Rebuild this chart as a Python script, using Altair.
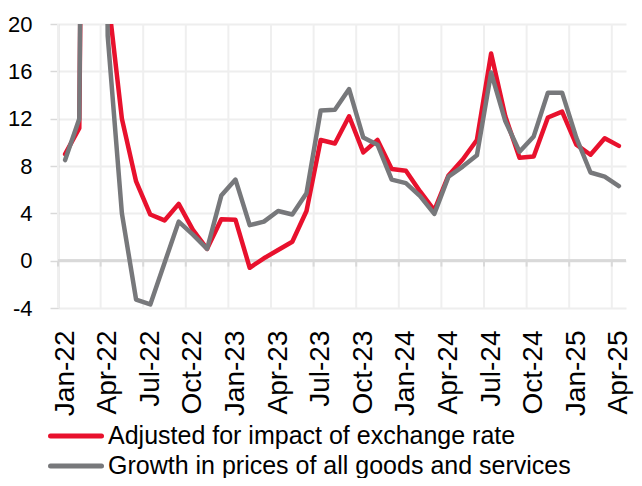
import altair as alt
import pandas as pd

months = [
    "Jan-22", "Feb-22", "Mar-22", "Apr-22", "May-22", "Jun-22", "Jul-22", "Aug-22",
    "Sep-22", "Oct-22", "Nov-22", "Dec-22", "Jan-23", "Feb-23", "Mar-23", "Apr-23",
    "May-23", "Jun-23", "Jul-23", "Aug-23", "Sep-23", "Oct-23", "Nov-23", "Dec-23",
    "Jan-24", "Feb-24", "Mar-24", "Apr-24", "May-24", "Jun-24", "Jul-24", "Aug-24",
    "Sep-24", "Oct-24", "Nov-24", "Dec-24", "Jan-25", "Feb-25", "Mar-25", "Apr-25",
]

adjusted = [
    9.0, 11.2, 150.0, 22.5, 12.0, 6.7, 3.9, 3.4, 4.8, 2.6,
    1.0, 3.5, 3.45, -0.6, 0.2, 0.9, 1.6, 4.2, 10.2, 9.9,
    12.2, 9.15, 10.2, 7.75, 7.6, 5.85, 4.25, 7.2, 8.55, 10.2,
    17.5, 12.2, 8.7, 8.8, 12.1, 12.6, 9.8, 8.95, 10.35, 9.7,
]

all_goods = [
    8.5, 12.0, 160.0, 19.0, 4.0, -3.3, -3.7, -0.2, 3.3, 2.2,
    1.0, 5.5, 6.85, 3.0, 3.3, 4.2, 3.9, 5.7, 12.7, 12.75,
    14.5, 10.4, 9.8, 6.85, 6.55, 5.45, 3.95, 7.1, 7.95, 8.9,
    15.9, 11.8, 9.2, 10.5, 14.2, 14.2, 10.4, 7.45, 7.1, 6.3,
]

series_names = [
    "Adjusted for impact of exchange rate",
    "Growth in prices of all goods and services",
]
series_colors = ["#E8112D", "#77787B"]
y_ticks = [-4, 0, 4, 8, 12, 16, 20]

rows = []
for name, vals in zip(series_names, [adjusted, all_goods]):
    for i, (m, v) in enumerate(zip(months, vals)):
        rows.append({"idx": i, "month": m, "series": name, "value": v})
df = pd.DataFrame(rows)

label_idx = list(range(0, len(months), 3))
bounds = pd.DataFrame({"b": [i - 0.5 for i in label_idx]})
label_expr = "[" + ",".join("'" + m + "'" for m in months) + "][datum.value]"

FONT = "Liberation Sans"
n = len(months)
xscale = alt.Scale(domain=[-0.5, n - 0.5], nice=False, zero=False)
yscale = alt.Scale(domain=[-4, 20], nice=False, zero=False)

x_axis = alt.Axis(
    values=label_idx,
    labelExpr=label_expr,
    labelAngle=-90,
    labelFontSize=28,
    labelFont=FONT,
    labelColor="black",
    labelPadding=22,
    labelOverlap=False,
    labelFlush=False,
    labelBound=False,
    ticks=False,
    domain=False,
    grid=False,
    title=None,
)

y_axis = alt.Axis(
    values=y_ticks,
    labelExpr="'' + datum.value",
    title=None,
    grid=True,
    gridColor="#eeeeee",
    gridWidth=2,
    domainColor="#d9d9d9",
    domainWidth=2,
    tickColor="#d9d9d9",
    tickSize=8,
    tickWidth=1.5,
    labelFontSize=22,
    labelFont=FONT,
    labelColor="black",
    labelPadding=18,
)

lines = alt.Chart(df).mark_line(
    strokeWidth=4.5, clip=True, strokeJoin="round", strokeCap="round"
).encode(
    x=alt.X("idx:Q", scale=xscale, axis=x_axis),
    y=alt.Y("value:Q", scale=yscale, axis=y_axis),
    color=alt.Color(
        "series:N",
        scale=alt.Scale(domain=series_names, range=series_colors),
        legend=None,
    ),
)

vgrid = alt.Chart(bounds).mark_rule(color="#efefef", strokeWidth=2).encode(
    x=alt.X("b:Q", scale=xscale, axis=x_axis),
    y=alt.datum(-4, scale=yscale, axis=y_axis),
    y2=alt.datum(20),
)

zero_rule = alt.Chart(bounds).mark_rule(color="#d9d9d9", strokeWidth=2).encode(
    y=alt.datum(0, scale=yscale, axis=y_axis),
)

zero_ticks = alt.Chart(bounds).mark_rule(color="#d9d9d9", strokeWidth=2).encode(
    x=alt.X("b:Q", scale=xscale, axis=x_axis),
    y=alt.datum(0, scale=yscale, axis=y_axis),
    y2=alt.datum(-0.5),
)

# legend (drawn as marks, positioned in pixels relative to the plot area)
legend_rows_y = [412, 442]
legend_layers = []
for k, name in enumerate(series_names):
    ldf = pd.DataFrame({"series": [name]})
    legend_layers.append(
        alt.Chart(ldf).mark_rule(
            color=series_colors[k], strokeWidth=5, strokeCap="round"
        ).encode(
            x=alt.value(-7.5), x2=alt.value(43.5), y=alt.value(legend_rows_y[k])
        )
    )
    legend_layers.append(
        alt.Chart(ldf).mark_text(
            align="left", baseline="middle", fontSize=25, font=FONT, color="black"
        ).encode(
            x=alt.value(50), y=alt.value(legend_rows_y[k]), text="series:N"
        )
    )

chart = (
    alt.layer(vgrid, zero_rule, lines, zero_ticks, *legend_layers)
    .resolve_scale(x="shared", y="shared")
    .properties(
        width=568,
        height=284,
        autosize=alt.AutoSizeParams(type="none"),
        padding={"left": 50, "top": 16, "right": 8, "bottom": 170},
        background="white",
    )
    .configure_view(stroke=None)
)

chart.save("out.html", embed_options={"renderer": "svg", "actions": False})
